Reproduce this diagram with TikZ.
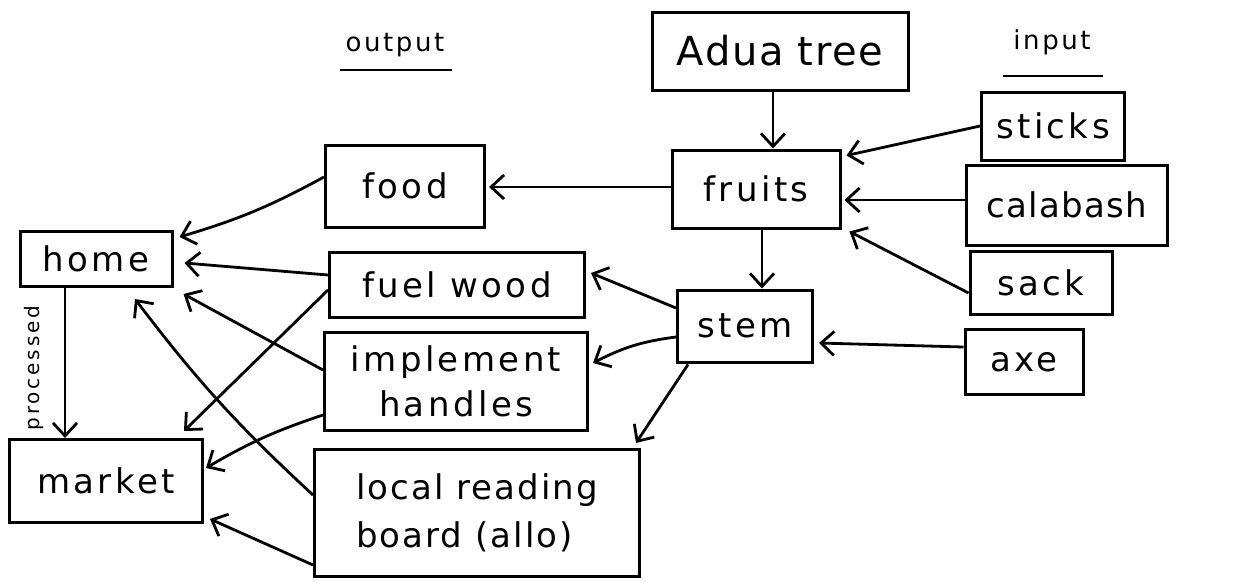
\documentclass[tikz,border=0pt]{standalone}
\usepackage{fontspec}
\setmainfont{DejaVu Sans}[LetterSpace=10]
\usetikzlibrary{arrows.meta,calc}
\begin{document}
\begin{tikzpicture}[x=1pt,y=-1pt,
  box/.style={draw, line width=3pt, inner sep=0pt, font=\fontsize{34}{45}\selectfont},
  lbl/.style={inner sep=0pt},
  arr/.style={line width=2.8pt, -{Straight Barb[length=13pt,width=24pt,line width=2.8pt]}},
  uline/.style={line width=2.8pt}
]
\useasboundingbox[fill=white] (0,0) rectangle (1256,581);
% titles
\node[lbl, font=\fontsize{26}{30}\selectfont] (out) at (395,45) {output};
\node[lbl, font=\fontsize{26}{30}\selectfont] (inp) at (1052,42) {input};
\draw[uline] ($(out.center)+(-55,25)$) -- ($(out.center)+(57,25)$);
\draw[uline] ($(inp.center)+(-49,34)$) -- ($(inp.center)+(51,34)$);
% boxes
\node[box, minimum width=256pt, minimum height=78pt, font=\fontsize{40}{48}\selectfont\addfontfeatures{LetterSpace=4}] (adua) at (780,51) {Adua tree};
\node[box, minimum width=143pt, minimum height=68pt] (sticks) at (1053,126) {sticks};
\node[box, minimum width=168pt, minimum height=78pt] (fruits) at (756,189) {fruits};
\node[box, minimum width=201pt, minimum height=80pt, font=\fontsize{34}{45}\selectfont\addfontfeatures{LetterSpace=4}] (calabash) at (1067,205) {calabash};
\node[box, minimum width=142pt, minimum height=63pt] (sack) at (1041,283) {sack};
\node[box, minimum width=135pt, minimum height=72pt] (stem) at (745,326) {stem};
\node[box, minimum width=118pt, minimum height=65pt] (axe) at (1024,362) {axe};
\node[box, minimum width=159pt, minimum height=82pt] (food) at (405,186) {food};
\node[box, minimum width=255pt, minimum height=65pt] (fuel) at (457,285) {fuel wood};
\node[box, minimum width=263pt, minimum height=98pt, align=center] (impl) at (456,381) {implement\\handles};
\node[box, minimum width=325pt, minimum height=127pt, align=left, font=\fontsize{34}{48}\selectfont\addfontfeatures{LetterSpace=6}] (board) at (477,513) {local reading\\board (allo)};
\node[box, minimum width=152pt, minimum height=55pt] (home) at (96,259) {home};
\node[box, minimum width=193pt, minimum height=83pt] (market) at (106,481) {market};
\node[lbl, rotate=90, font=\fontsize{20}{24}\selectfont\addfontfeatures{LetterSpace=14}] (proc) at (34,368) {processed};
% arrows
\draw[arr] ($(adua.south)+(-7,0)$) -- ($(fruits.north)+(17,0)$);
\draw[arr] ($(fruits.south)+(6,0)$) -- ($(stem.north)+(17,0)$);
\draw[arr] ($(fruits.west)+(0,-2)$) -- ($(food.east)+(3,1)$);
\draw[arr] (sticks.west) -- ($(fruits.north east)+(5,7)$);
\draw[arr] ($(calabash.west)+(0,-5)$) -- ($(fruits.east)+(3,11)$);
\draw[arr] ($(sack.west)+(0,10)$) -- ($(fruits.south east)+(8,2)$);
\draw[arr] ($(axe.west)+(0,-15)$) -- ($(stem.east)+(5,17)$);
\draw[arr] ($(stem.west)+(0,-18)$) -- ($(fuel.east)+(5,-12)$);
\draw[arr] ($(stem.west)+(0,11)$) to[bend right=10] ($(impl.east)+(4,-18)$);
\draw[arr] ($(stem.south west)+(12,1)$) -- ($(board.north east)+(-5,-5)$);
\draw[arr] ($(food.west)+(0,-9)$) to[bend left=6] ($(home.north east)+(6,7)$);
\draw[arr] ($(fuel.west)+(0,-10)$) -- ($(home.east)+(11,4)$);
\draw[arr] ($(impl.west)+(0,-11)$) -- ($(home.south east)+(10,6)$);
\draw[arr] ($(board.west)+(0,-18)$) to[bend left=5] ($(home.south)+(39,11)$);
\draw[arr] ($(fuel.west)+(0,5)$) -- ($(market.north east)+(-20,-7)$);
\draw[arr] ($(impl.west)+(0,34)$) to[bend right=6] ($(market.east)+(2,-13)$);
\draw[arr] ($(board.west)+(0,52)$) -- ($(market.south east)+(6,-5)$);
\draw[arr] ($(home.south)+(-31,0)$) -- ($(market.north)+(-41,0)$);
\end{tikzpicture}
\end{document}
